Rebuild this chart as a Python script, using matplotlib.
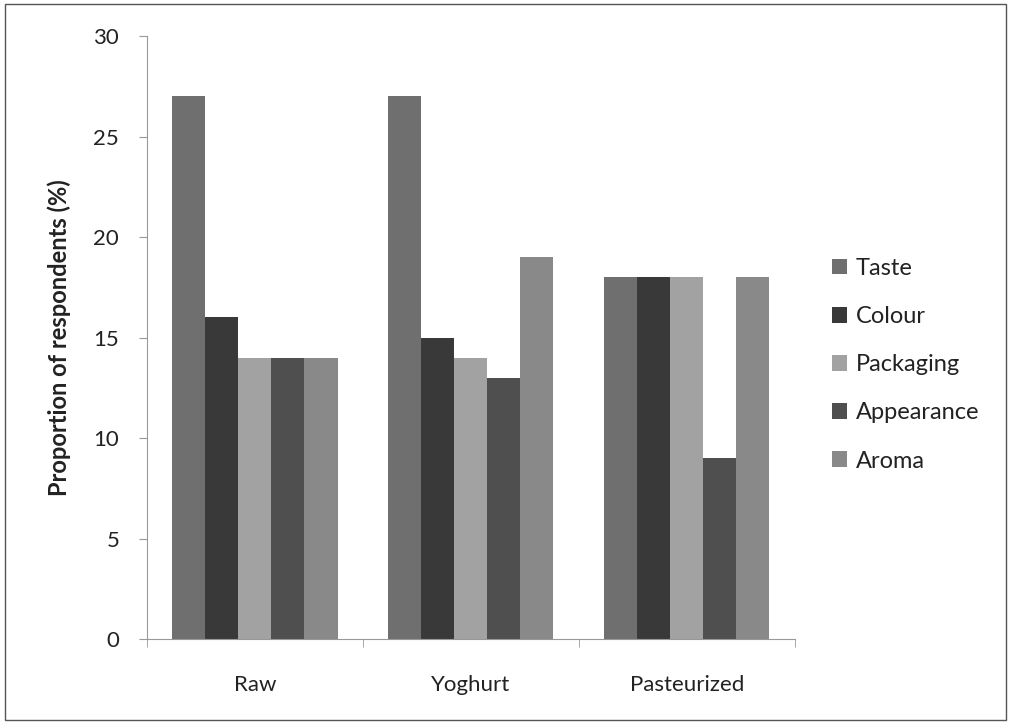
import matplotlib
matplotlib.use("Agg")
import matplotlib.pyplot as plt
import numpy as np
from matplotlib.patches import Rectangle

categories = ["Raw", "Yoghurt", "Pasteurized"]
series_names = ["Taste", "Colour", "Packaging", "Appearance", "Aroma"]
taste = [27, 27, 18]
colour = [16, 15, 18]
packaging = [14, 14, 18]
appearance = [14, 13, 9]
aroma = [14, 19, 18]
yticks = [0, 5, 10, 15, 20, 25, 30]

series = [taste, colour, packaging, appearance, aroma]
colors = ["#6f6f6f", "#393939", "#a2a2a2", "#4f4f4f", "#898989"]

plt.rcParams['font.family'] = ['Lato', 'DejaVu Sans']
fig = plt.figure(figsize=(10.11, 7.23), dpi=100)
fig.patches.append(Rectangle((0.005, 0.004), 0.99, 0.99, transform=fig.transFigure,
                             fill=False, edgecolor="#555555", linewidth=1.0))
ax = fig.add_axes([0.1454, 0.1162, 0.6406, 0.8338])

x = np.arange(len(categories))
bw = 0.153
for i, (vals, c) in enumerate(zip(series, colors)):
    ax.bar(x + (i - 2) * bw, vals, width=bw, color=c, label=series_names[i], linewidth=0)

ax.set_xlim(-0.5, 2.5)
ax.set_ylim(0, 30)
ax.set_yticks(yticks)
ax.set_yticklabels([str(t) for t in yticks], fontsize=16, color="#222222")
ax.set_xticks(x)
ax.set_xticklabels(categories, fontsize=16, color="#222222")
ax.set_xticks([-0.5, 0.5, 1.5, 2.5], minor=True)
ax.tick_params(axis='x', which='major', length=0, pad=26)
ax.tick_params(axis='x', which='minor', length=6, color="#999999")
ax.tick_params(axis='y', length=6, color="#999999", pad=14)
for s in ["top", "right"]:
    ax.spines[s].set_visible(False)
ax.spines["left"].set_color("#999999")
ax.spines["bottom"].set_color("#999999")
ax.set_ylabel("Proportion of respondents (%)", fontsize=17, fontweight="bold",
              labelpad=16, color="#222222")

leg = ax.legend(loc="center left", bbox_to_anchor=(1.025, 0.455), frameon=False, fontsize=17,
                handlelength=0.65, handleheight=0.65, handletextpad=0.35, labelspacing=1.15)
for t in leg.get_texts():
    t.set_color("#222222")

fig.savefig("out.png", dpi=100)
